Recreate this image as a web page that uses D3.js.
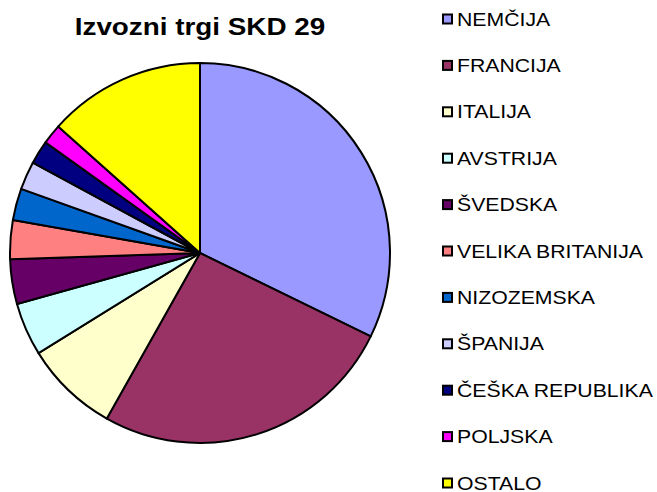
<!DOCTYPE html>
<html>
<head>
<meta charset="utf-8">
<script src="https://cdn.jsdelivr.net/npm/d3@7"></script>
<style>
	body { margin: 0; background: #fff; }
	svg { display: block; }
	text { font-family: "Liberation Sans", Arial, sans-serif; }
</style>
</head>
<body>
<svg id="chart" width="657" height="492"></svg>
<script>
"use strict";

var countries = ["NEMČIJA", "FRANCIJA", "ITALIJA", "AVSTRIJA", "ŠVEDSKA", "VELIKA BRITANIJA",
	"NIZOZEMSKA", "ŠPANIJA", "ČEŠKA REPUBLIKA", "POLJSKA", "OSTALO"];
var shares = [32.2, 25.9, 8.0, 4.5, 3.8, 3.3, 2.7, 2.4, 2.0, 1.7, 13.4];
var colors = ["#9999FF", "#993366", "#FFFFCC", "#CCFFFF", "#660066", "#FF8080",
	"#0066CC", "#CCCCFF", "#000080", "#FF00FF", "#FFFF00"];
var title = "Izvozni trgi SKD 29";

var svg = d3.select("#chart");

var data = countries.map(function (c, i) {
	return { name: c, value: shares[i], color: colors[i] };
});

// pie, clockwise from 12 o'clock, keep input order
var pie = d3.pie()
	.sort(null)
	.value(function (d) { return d.value; });

var arc = d3.arc()
	.innerRadius(0)
	.outerRadius(190);

svg.append("g")
	.attr("transform", "translate(200, 253)")
	.selectAll("path")
	.data(pie(data))
	.join("path")
	.attr("d", arc)
	.attr("fill", function (d) { return d.data.color; })
	.attr("stroke", "#000")
	.attr("stroke-width", 2)
	.attr("stroke-linejoin", "round");

// title, text is a bit wide in the original so stretch it
svg.append("text")
	.attr("transform", "translate(200, 35) scale(1.16, 1)")
	.attr("text-anchor", "middle")
	.attr("font-size", 24)
	.attr("font-weight", "bold")
	.text(title);

// legend
var rowY = d3.scalePoint()
	.domain(countries)
	.range([19, 483]);

var legend = svg.append("g")
	.selectAll("g")
	.data(data)
	.join("g")
	.attr("transform", function (d) { return "translate(442, " + rowY(d.name) + ")"; });

legend.append("rect")
	.attr("x", 1)
	.attr("y", -4.5)
	.attr("width", 9)
	.attr("height", 9)
	.attr("fill", function (d) { return d.color; })
	.attr("stroke", "#000")
	.attr("stroke-width", 2);

legend.append("text")
	.attr("transform", "translate(15, 6.5) scale(1.18, 1)")
	.attr("font-size", 18)
	.text(function (d) { return d.name; });
</script>
</body>
</html>
